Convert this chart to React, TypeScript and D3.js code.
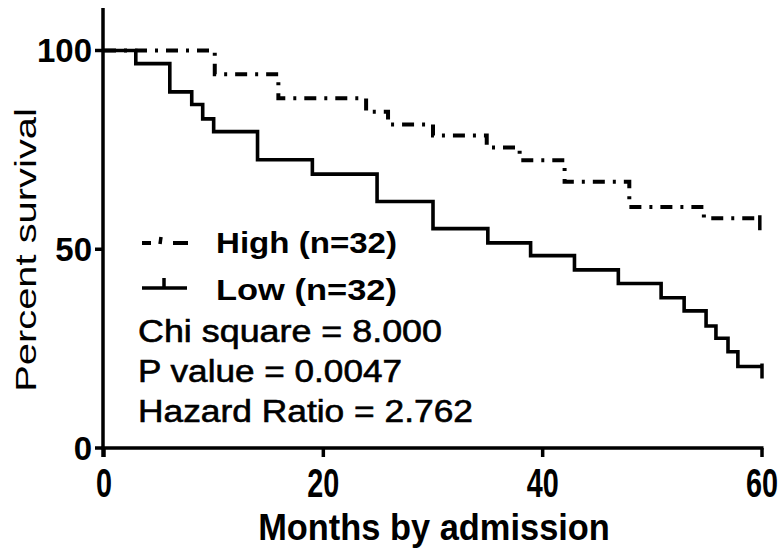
import React from "react";
import * as d3 from "d3";

// Kaplan-Meier steps: [month, percent survival after the drop]
const lowSteps: [number, number][] = [
  [0, 100], [2.9, 96.7], [6.0, 89.6], [8.0, 86.4], [9.0, 82.8], [10.0, 79.6],
  [14.0, 72.5], [19.0, 68.9], [24.9, 62.0], [30.0, 55.2], [35.0, 51.6],
  [38.9, 48.4], [42.9, 44.8], [46.9, 41.4], [50.8, 37.8], [52.9, 34.5],
  [54.9, 30.7], [55.8, 27.6], [56.9, 24.2], [57.8, 20.5], [60, 20.5],
];
const highSteps: [number, number][] = [
  [0, 100], [10.1, 94.0], [15.9, 88.0], [23.9, 84.6], [25.9, 81.4],
  [30.0, 78.6], [34.9, 75.6], [37.9, 72.4], [42.0, 67.0], [47.9, 60.6],
  [54.7, 57.8], [59.8, 57.8],
];
// censored at end of follow-up
const lowCensor: [number, number][] = [[60, 20.5]];
const highCensor: [number, number][] = [[59.8, 57.8]];

const xTicks = [0, 20, 40, 60];
const yTicks = [0, 50, 100];
const legendLabels = ["High (n=32)", "Low (n=32)"];
const statLines = ["Chi square = 8.000", "P value = 0.0047", "Hazard Ratio = 2.762"];
const statWidths = [304, 264, 335];

const W = 784;
const H = 554;
const FONT = "Arial, 'Liberation Sans', Helvetica, sans-serif";
const DASH = "12,8,3,8";

export default function App() {
  const x = d3.scaleLinear().domain([0, 60]).range([104, 762]);
  const y = d3.scaleLinear().domain([0, 100]).range([448, 50.5]);

  const step = d3
    .line<[number, number]>()
    .x((d) => x(d[0]))
    .y((d) => y(d[1]))
    .curve(d3.curveStepAfter);

  const x0 = x(0) - 1;
  const y0 = y(0);

  return (
    <div style={{ position: "fixed", left: 0, top: 0, width: W, height: H, overflow: "hidden", background: "#fff" }}>
      <svg width={W} height={H} style={{ display: "block" }} fontFamily={FONT}>
        {/* curves */}
        <path d={step(highSteps) || ""} fill="none" stroke="#000" strokeWidth={4} strokeDasharray={DASH} />
        <path d={step(lowSteps) || ""} fill="none" stroke="#000" strokeWidth={3.6} />
        {highCensor.concat(lowCensor).map((d, i) => (
          <line key={"c" + i} x1={x(d[0])} x2={x(d[0])} y1={y(d[1]) - 3} y2={y(d[1]) + 12} stroke="#000" strokeWidth={3.5} />
        ))}

        {/* axes */}
        <line x1={x0} x2={x0} y1={8} y2={y0 + 9} stroke="#000" strokeWidth={3.5} />
        <line x1={x0 - 1.5} x2={x(60) + 1.5} y1={y0} y2={y0} stroke="#000" strokeWidth={3.5} />
        {yTicks.map((t) => (
          <g key={"y" + t}>
            <line x1={x0 - 8} x2={x0} y1={y(t)} y2={y(t)} stroke="#000" strokeWidth={3.5} />
            <text x={92} y={y(t)} dy="0.36em" textAnchor="end" fontSize={33} fontWeight="bold">
              {t}
            </text>
          </g>
        ))}
        {xTicks.map((t) => (
          <g key={"x" + t}>
            <line x1={x(t)} x2={x(t)} y1={y0} y2={y0 + 9} stroke="#000" strokeWidth={3.5} />
            <text transform={`translate(${x(t)},497) scale(0.72,1)`} textAnchor="middle" fontSize={40} fontWeight="bold">
              {t}
            </text>
          </g>
        ))}
        <text transform="translate(434,540) scale(0.93,1)" textAnchor="middle" fontSize={37} fontWeight="bold">
          Months by admission
        </text>
        <text transform="translate(36,250) rotate(-90) scale(1.33,1)" textAnchor="middle" fontSize={30}>
          Percent survival
        </text>

        {/* legend */}
        <path d="M142,243 H188" stroke="#000" strokeWidth={4} strokeDasharray="9,22,15" />
        <line x1={161} x2={160} y1={237} y2={244} stroke="#000" strokeWidth={3.5} />
        <line x1={142} x2={187} y1={288} y2={288} stroke="#000" strokeWidth={3.6} />
        <line x1={164} x2={164} y1={278} y2={288} stroke="#000" strokeWidth={3.5} />
        {legendLabels.map((l, i) => (
          <text key={l} x={216} y={253 + i * 47} fontSize={29} fontWeight="bold"
            textLength={181} lengthAdjust="spacingAndGlyphs">
            {l}
          </text>
        ))}

        {/* statistics */}
        {statLines.map((s, i) => (
          <text key={s} x={138} y={342 + i * 40} fontSize={31} stroke="#000" strokeWidth={0.6}
            textLength={statWidths[i]} lengthAdjust="spacingAndGlyphs">
            {s}
          </text>
        ))}
      </svg>
    </div>
  );
}
